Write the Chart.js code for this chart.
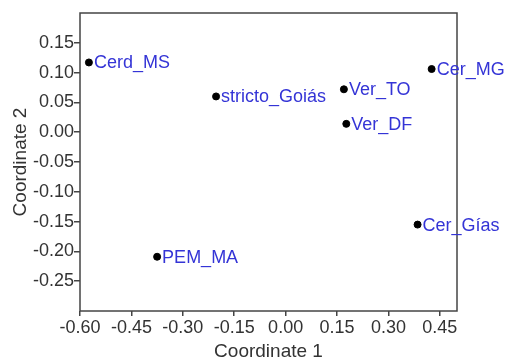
<!DOCTYPE html>
<html>
<head>
<meta charset="utf-8">
<script src="https://cdn.jsdelivr.net/npm/chart.js@4/dist/chart.umd.min.js"></script>
<style>
  html, body { margin: 0; padding: 0; background: #fff; }
  #wrap { width: 512px; height: 361px; }
</style>
</head>
<body>
<div id="wrap"><canvas id="chart"></canvas></div>
<script>
// sites and their coordinates
const siteNames = ["Cerd_MS", "stricto_Goiás", "Ver_TO", "Ver_DF", "Cer_MG", "Cer_Gías", "PEM_MA"];
const coord1 = [-0.574, -0.203, 0.170, 0.177, 0.426, 0.385, -0.375];
const coord2 = [0.117, 0.060, 0.072, 0.014, 0.106, -0.155, -0.209];

const xTicks = [-0.60, -0.45, -0.30, -0.15, 0.00, 0.15, 0.30, 0.45];
const yTicks = [-0.25, -0.20, -0.15, -0.10, -0.05, 0.00, 0.05, 0.10, 0.15];

const FONT = "'Liberation Sans', Arial, sans-serif";

// box round the plot area
const frame = {
  id: "frame",
  beforeDatasetsDraw(chart) {
    const { ctx, chartArea: a } = chart;
    ctx.save();
    ctx.strokeStyle = "#444";
    ctx.lineWidth = 1.5;
    ctx.strokeRect(a.left, a.top, a.right - a.left, a.bottom - a.top);
    ctx.restore();
  }
};

// blue names beside each point
const pointNames = {
  id: "pointNames",
  afterDatasetsDraw(chart) {
    const ctx = chart.ctx;
    const meta = chart.getDatasetMeta(0);
    ctx.save();
    ctx.font = "18px " + FONT;
    ctx.fillStyle = "#3434d6";
    ctx.textBaseline = "middle";
    meta.data.forEach((pt, i) => {
      ctx.fillText(siteNames[i], pt.x + 5, pt.y + 1);
    });
    ctx.restore();
  }
};

const points = coord1.map((x, i) => ({ x: x, y: coord2[i] }));

new Chart(document.getElementById("chart"), {
  type: "scatter",
  data: {
    datasets: [{
      data: points,
      backgroundColor: "#000",
      borderColor: "#000",
      pointRadius: 3.5,
      pointHoverRadius: 3.5
    }]
  },
  options: {
    responsive: true,
    maintainAspectRatio: false,
    animation: false,
    layout: { padding: { left: 0, top: 13, right: 55, bottom: 0 } },
    plugins: {
      legend: { display: false },
      tooltip: { enabled: false }
    },
    scales: {
      x: {
        type: "linear",
        min: -0.60,
        max: 0.50,
        afterBuildTicks(scale) { scale.ticks = xTicks.map(v => ({ value: v })); },
        afterFit(scale) { scale.height = 50; },
        ticks: {
          color: "#333",
          font: { size: 18, family: FONT },
          padding: 1,
          maxRotation: 0,
          autoSkip: false,
          callback: v => v.toFixed(2)
        },
        grid: { drawOnChartArea: false, tickLength: 5, color: "#444", lineWidth: 1.5 },
        border: { display: false },
        title: {
          display: true,
          text: "Coordinate 1",
          color: "#333",
          font: { size: 19, family: FONT, lineHeight: 1.0 },
          padding: { top: 0, bottom: 0 }
        }
      },
      y: {
        type: "linear",
        min: -0.30,
        max: 0.20,
        afterBuildTicks(scale) { scale.ticks = yTicks.map(v => ({ value: v })); },
        afterFit(scale) { scale.width = 80; },
        ticks: {
          color: "#333",
          font: { size: 18, family: FONT },
          padding: 0,
          autoSkip: false,
          callback: v => v.toFixed(2)
        },
        grid: { drawOnChartArea: false, tickLength: 6, color: "#444", lineWidth: 1.5 },
        border: { display: false },
        title: {
          display: true,
          text: "Coordinate 2",
          color: "#333",
          font: { size: 19, family: FONT },
          padding: { top: 9, bottom: 0 }
        }
      }
    }
  },
  plugins: [frame, pointNames]
});
</script>
</body>
</html>
